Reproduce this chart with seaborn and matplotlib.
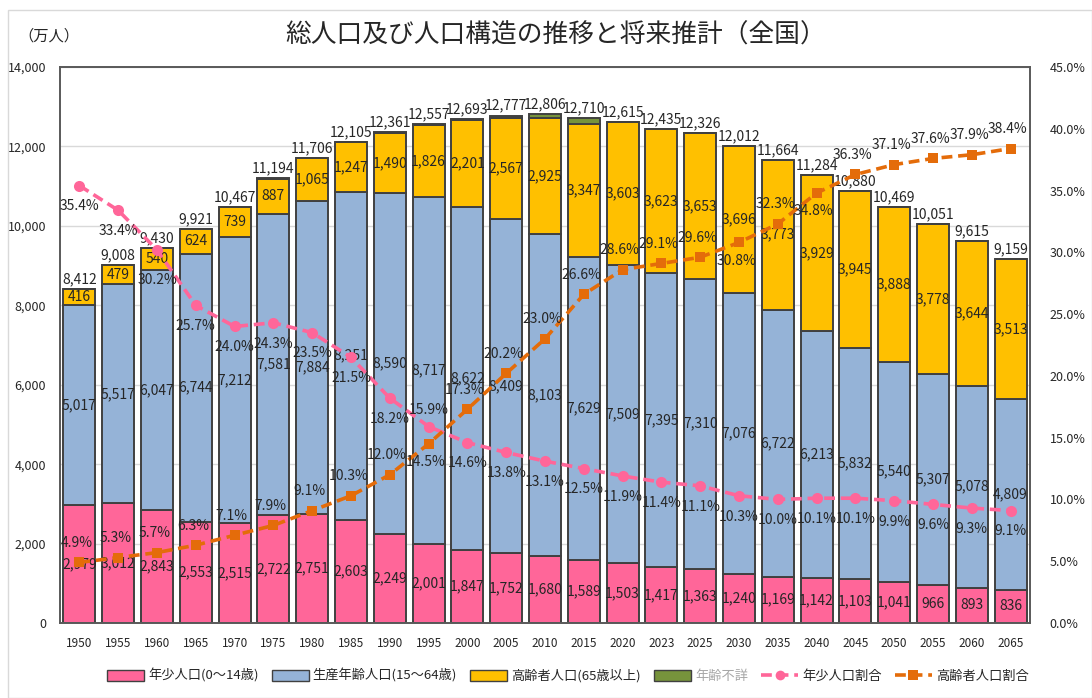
import numpy as np
import pandas as pd
import matplotlib
matplotlib.use("Agg")
import matplotlib.pyplot as plt
from matplotlib.patches import Patch, Rectangle
from matplotlib.lines import Line2D
from matplotlib.ticker import FuncFormatter, MultipleLocator
import seaborn as sns

# ----- data (万人 / %) ----- #
years = ["1950", "1955", "1960", "1965", "1970", "1975", "1980", "1985", "1990",
         "1995", "2000", "2005", "2010", "2015", "2020", "2023", "2025", "2030",
         "2035", "2040", "2045", "2050", "2055", "2060", "2065"]
young = [2979, 3012, 2843, 2553, 2515, 2722, 2751, 2603, 2249, 2001, 1847, 1752,
         1680, 1589, 1503, 1417, 1363, 1240, 1169, 1142, 1103, 1041, 966, 893, 836]
working = [5017, 5517, 6047, 6744, 7212, 7581, 7884, 8251, 8590, 8717, 8622, 8409,
           8103, 7629, 7509, 7395, 7310, 7076, 6722, 6213, 5832, 5540, 5307, 5078, 4809]
elderly = [416, 479, 540, 624, 739, 887, 1065, 1247, 1490, 1826, 2201, 2567,
           2925, 3347, 3603, 3623, 3653, 3696, 3773, 3929, 3945, 3888, 3778, 3644, 3513]
unknown = [0, 0, 0, 0, 1, 4, 6, 4, 32, 13, 23, 49,
           98, 145, 0, 0, 0, 0, 0, 0, 0, 0, 0, 0, 0]
totals = [8412, 9008, 9430, 9921, 10467, 11194, 11706, 12105, 12361, 12557, 12693, 12777,
          12806, 12710, 12615, 12435, 12326, 12012, 11664, 11284, 10880, 10469, 10051, 9615, 9159]
young_ratio = [35.4, 33.4, 30.2, 25.7, 24.0, 24.3, 23.5, 21.5, 18.2, 15.9, 14.6, 13.8,
               13.1, 12.5, 11.9, 11.4, 11.1, 10.3, 10.0, 10.1, 10.1, 9.9, 9.6, 9.3, 9.1]
elderly_ratio = [4.9, 5.3, 5.7, 6.3, 7.1, 7.9, 9.1, 10.3, 12.0, 14.5, 17.3, 20.2,
                 23.0, 26.6, 28.6, 29.1, 29.6, 30.8, 32.3, 34.8, 36.3, 37.1, 37.6, 37.9, 38.4]

labels = ["年少人口(0～14歳)", "生産年齢人口(15～64歳)", "高齢者人口(65歳以上)",
          "年齢不詳", "年少人口割合", "高齢者人口割合"]

C_YOUNG = "#FF6699"
C_WORK = "#95B3D7"
C_OLD = "#FFC000"
C_UNK = "#77933C"
C_EDGE = "#404040"
C_LYOUNG = "#FF6699"
C_LOLD = "#E46C0A"
DASH = [3.0, 1.6]

# label placement tweaks (like the hand-placed labels of the original)
young_label_above = {"1995"}
young_label_far = {"1960"}
old_label_below = {"1995", "2030", "2040"}
working_label_lowered = {"1980"}

sns.set_theme(style="white")
plt.rcParams['font.family'] = ['Noto Sans CJK JP', 'DejaVu Sans']
plt.rcParams['text.color'] = '#262626'

df = pd.DataFrame({"year": years, "young": young, "working": working,
                   "elderly": elderly, "unknown": unknown})
b_work = np.array(young)
b_old = b_work + np.array(working)
b_unk = b_old + np.array(elderly)

fig = plt.figure(figsize=(10.92, 6.98), dpi=100)
ax = fig.add_axes([60 / 1092, 1 - 623 / 698, 970 / 1092, 556 / 698])
ax.set_axisbelow(True)

bar_kw = dict(width=0.82, edgecolor=C_EDGE, linewidth=1.4, saturation=1, ax=ax)
sns.barplot(data=df, x="year", y="young", color=C_YOUNG, **bar_kw)
sns.barplot(data=df, x="year", y="working", color=C_WORK, bottom=b_work, **bar_kw)
sns.barplot(data=df, x="year", y="elderly", color=C_OLD, bottom=b_old, **bar_kw)
sns.barplot(data=df, x="year", y="unknown", color=C_UNK, bottom=b_unk, **bar_kw)

# segment labels
seg_texts = []
for cont, vals in zip(ax.containers[:3], [young, working, elderly]):
    seg_texts.append(ax.bar_label(cont, labels=[f"{v:,}" for v in vals],
                                  label_type="center", fontsize=10, color="#262626"))
for i, y in enumerate(years):
    if y in working_label_lowered:
        seg_texts[1][i].xyann = (0, -7)
for i, t in enumerate(totals):
    ax.annotate(f"{t:,}", (i, t), xytext=(0, 2), textcoords="offset points",
                ha="center", va="bottom", fontsize=10)

ax.set_ylim(0, 14000)
ax.set_xlim(-0.5, len(years) - 0.5)
ax.yaxis.set_major_locator(MultipleLocator(2000))
ax.yaxis.set_major_formatter(FuncFormatter(lambda v, p: f"{int(v):,}"))
ax.grid(axis="y", color="#d9d9d9", linewidth=1)
ax.set_xlabel("")
ax.set_ylabel("")
ax.tick_params(axis="y", length=0, labelsize=9, pad=10)
ax.tick_params(axis="x", length=0, labelsize=8.5, pad=10)
for s in ax.spines.values():
    s.set_color("#595959")
    s.set_linewidth(1.2)

# ratio lines
ax2 = ax.twinx()
pos = np.arange(len(years))
sns.lineplot(x=pos, y=young_ratio, ax=ax2, color=C_LYOUNG, linewidth=2.6,
             marker="o", markersize=8, markeredgewidth=0, linestyle="--")
sns.lineplot(x=pos, y=elderly_ratio, ax=ax2, color=C_LOLD, linewidth=2.6,
             marker="s", markersize=7.5, markeredgewidth=0, linestyle="--")
for ln in ax2.lines:
    ln.set_dashes(DASH)
for i, r in enumerate(young_ratio):
    if years[i] in young_label_above:
        dy = 12
    elif years[i] in young_label_far:
        dy = -22
    else:
        dy = -15
    ax2.annotate(f"{r:.1f}%", (i, r), xytext=(0, dy), textcoords="offset points",
                 ha="center", va="center", fontsize=10, style="italic")
for i, r in enumerate(elderly_ratio):
    dy = -13 if years[i] in old_label_below else 14
    ax2.annotate(f"{r:.1f}%", (i, r), xytext=(-2, dy), textcoords="offset points",
                 ha="center", va="center", fontsize=10, style="italic")
ax2.set_ylim(0, 45)
ax2.yaxis.set_major_locator(MultipleLocator(5))
ax2.yaxis.set_major_formatter(FuncFormatter(lambda v, p: f"{v:.1f}%"))
ax2.tick_params(axis="y", length=0, labelsize=9, pad=14)
ax2.set_xlim(-0.5, len(years) - 0.5)
for s in ax2.spines.values():
    s.set_color("#595959")
    s.set_linewidth(1.2)

# titles
fig.text(556 / 1092, 1 - 36 / 698, "総人口及び人口構造の推移と将来推計（全国）",
         ha="center", va="center", fontsize=18.5)
fig.text(18 / 1092, 1 - 36 / 698, "（万人）", ha="left", va="center", fontsize=11)

# legend
handles = [Patch(facecolor=C_YOUNG, edgecolor=C_EDGE),
           Patch(facecolor=C_WORK, edgecolor=C_EDGE),
           Patch(facecolor=C_OLD, edgecolor=C_EDGE),
           Patch(facecolor=C_UNK, edgecolor=C_EDGE),
           Line2D([], [], color=C_LYOUNG, linestyle="--", linewidth=2.6, marker="o",
                  markersize=7, markeredgewidth=0, dashes=DASH),
           Line2D([], [], color=C_LOLD, linestyle="--", linewidth=2.6, marker="s",
                  markersize=7, markeredgewidth=0, dashes=DASH)]
leg = fig.legend(handles, labels, loc="center", bbox_to_anchor=(0.52, 1 - 676 / 698),
                 ncol=6, frameon=False, fontsize=9.5, handlelength=2.8,
                 handleheight=0.9, columnspacing=1.0, handletextpad=0.3)
leg.get_texts()[3].set_color("#a6a6a6")

# outer frame
fig.patches.append(Rectangle((8 / 1092, 0), 1 - 8 / 1092, 1 - 10 / 698,
                             transform=fig.transFigure, fill=False,
                             edgecolor="#d9d9d9", linewidth=1))

fig.savefig("out.png", dpi=100)
